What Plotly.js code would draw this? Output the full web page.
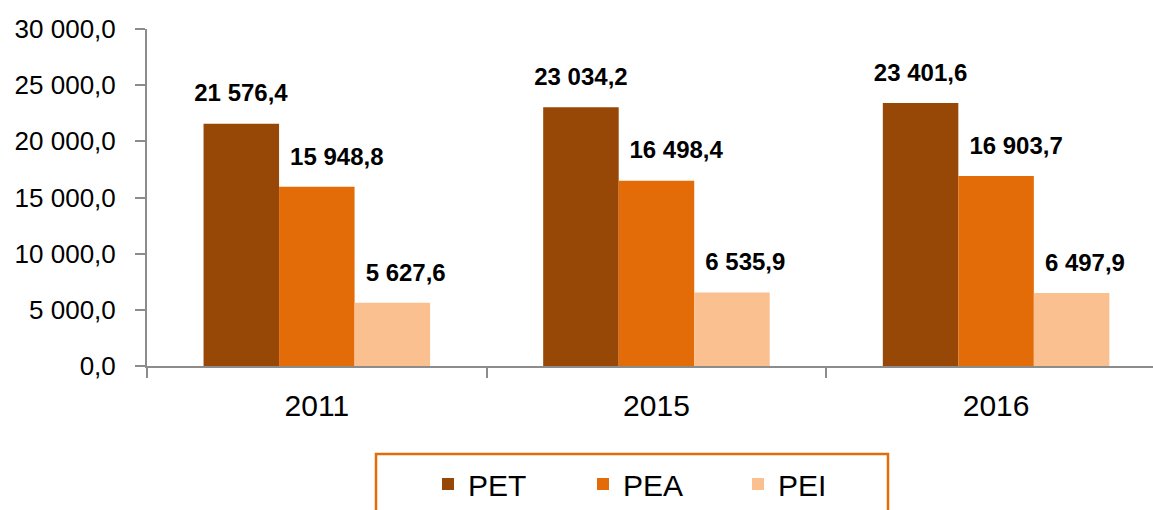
<!DOCTYPE html>
<html>
<head>
<meta charset="utf-8">
<script src="https://cdn.plot.ly/plotly-3.0.1.min.js"></script>
<style>html,body{margin:0;padding:0;background:#fff;overflow:hidden}#chart{width:1153px;height:510px}</style>
</head>
<body>
<div id="chart"></div>
<script>
const categories = ["2011", "2015", "2016"];
const seriesNames = ["PET", "PEA", "PEI"];
const petValues = [21576.4, 23034.2, 23401.6];
const peaValues = [15948.8, 16498.4, 16903.7];
const peiValues = [5627.6, 6535.9, 6497.9];
const colors = ["#974806", "#E36C09", "#FAC090"];

const labelFont = "'Liberation Sans', Arial, sans-serif";
function labelTemplate(padCount) {
  const pad = "\u00A0".repeat(padCount);
  return "<span style='font-size:24px'>" + pad + "<b>%{y:,.1f}</b></span><br><span style='font-size:3px'>\u00A0</span>";
}
const pads = [0, 6, 4];
const valuesList = [petValues, peaValues, peiValues];

const traces = valuesList.map((vals, i) => ({
  type: "bar",
  name: seriesNames[i],
  x: categories,
  y: vals,
  marker: {color: colors[i], line: {width: 0}},
  texttemplate: labelTemplate(pads[i]),
  textposition: "outside",
  constraintext: "none",
  cliponaxis: false,
  textfont: {family: labelFont, size: 14, color: "#000"},
  hoverinfo: "skip"
}));

const plotL = 147, plotT = 29, plotW = 1006, plotH = 337;
function px2paperX(p) { return (p - plotL) / plotW; }
function px2paperY(p) { return (plotT + plotH - p) / plotH; }

const layout = {
  width: 1153,
  height: 510,
  margin: {l: plotL, r: 0, t: plotT, b: 510 - plotT - plotH, pad: 0},
  paper_bgcolor: "#fff",
  plot_bgcolor: "#fff",
  separators: ", ",
  barmode: "group",
  bargap: 0.333,
  bargroupgap: 0,
  font: {family: labelFont, color: "#000"},
  xaxis: {
    type: "category",
    range: [-0.5, 2.462],
    showline: true,
    linecolor: "#8C8C8C",
    linewidth: 2,
    ticks: "outside",
    tickson: "boundaries",
    ticklen: 10,
    tickwidth: 2,
    tickcolor: "#8C8C8C",
    showgrid: false,
    zeroline: false,
    tickfont: {family: labelFont, size: 30, color: "#000"},
    ticklabelstandoff: 12
  },
  yaxis: {
    range: [0, 30000],
    dtick: 5000,
    tick0: 0,
    tickformat: ",.1f",
    showline: true,
    linecolor: "#8C8C8C",
    linewidth: 2,
    ticks: "outside",
    ticklen: 10,
    tickwidth: 2,
    tickcolor: "#8C8C8C",
    showgrid: false,
    zeroline: false,
    tickfont: {family: labelFont, size: 26, color: "#000"},
    ticklabelstandoff: 14
  },
  showlegend: true,
  legend: {
    orientation: "h",
    x: px2paperX(428),
    xanchor: "left",
    y: px2paperY(484),
    yanchor: "middle",
    entrywidth: 110,
    entrywidthmode: "pixels",
    font: {family: labelFont, size: 30, color: "#000"},
    bgcolor: "rgba(0,0,0,0)",
    borderwidth: 0
  },
  shapes: [{
    type: "rect",
    xref: "paper", yref: "paper",
    x0: px2paperX(376), x1: px2paperX(888),
    y0: px2paperY(454), y1: px2paperY(540),
    line: {color: "#E36C09", width: 2.5},
    fillcolor: "rgba(0,0,0,0)",
    layer: "below"
  }]
};

Plotly.newPlot("chart", traces, layout, {displayModeBar: false, staticPlot: true});
</script>
</body>
</html>
